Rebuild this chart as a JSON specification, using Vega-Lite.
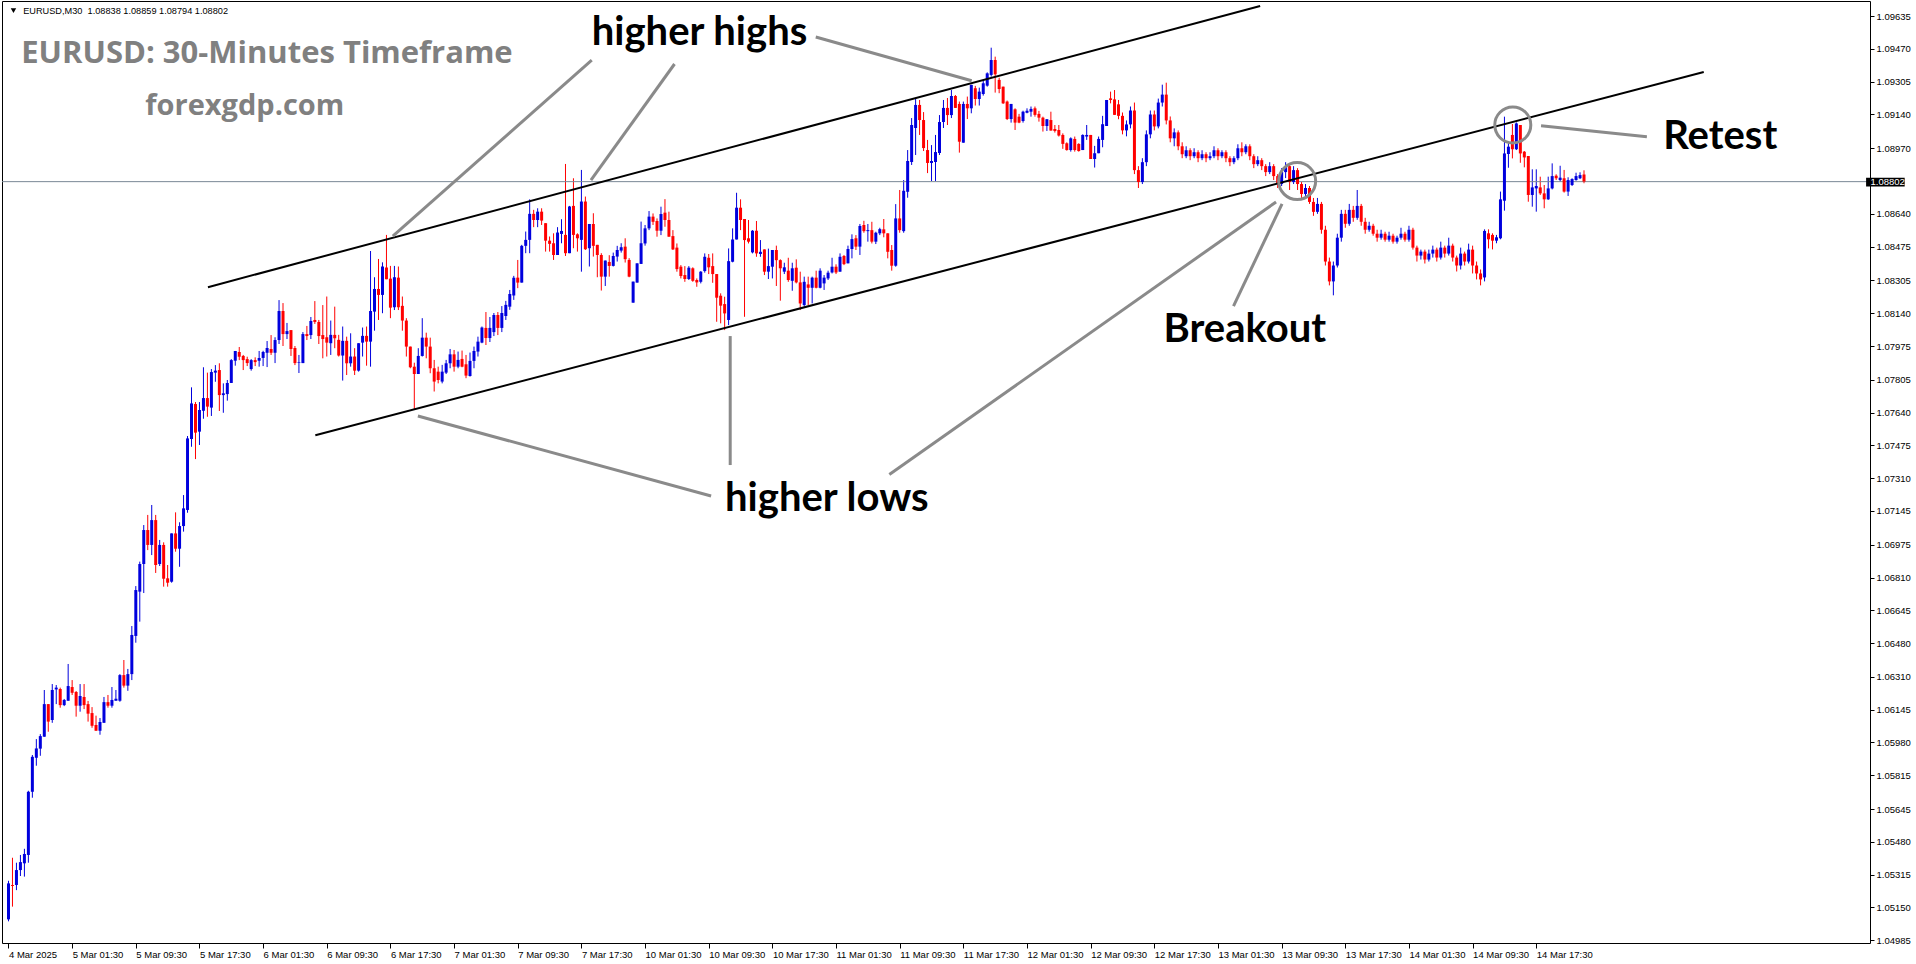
{
"$schema":"https://vega.github.io/schema/vega-lite/v6.json",
"width":1868,"height":942,"autosize":"none",
"padding":{"left":2,"top":1,"right":46,"bottom":21},
"background":"white",
"config":{"view":{"stroke":"black","strokeWidth":1},"axis":{"labelFont":"Liberation Sans","labelFontSize":9.5,"labelColor":"black","tickColor":"black","grid":false,"domain":false,"labelOverlap":false}},
"datasets":{
"bars":[
{"i":0,"o":1.05090,"h":1.05284,"l":1.05080,"c":1.05271},
{"i":1,"o":1.05263,"h":1.05400,"l":1.05154,"c":1.05258},
{"i":2,"o":1.05263,"h":1.05375,"l":1.05237,"c":1.05338},
{"i":3,"o":1.05338,"h":1.05414,"l":1.05308,"c":1.05378},
{"i":4,"o":1.05372,"h":1.05445,"l":1.05305,"c":1.05419},
{"i":5,"o":1.05414,"h":1.05737,"l":1.05375,"c":1.05732},
{"i":6,"o":1.05732,"h":1.05917,"l":1.05702,"c":1.05908},
{"i":7,"o":1.05903,"h":1.05997,"l":1.05863,"c":1.05950},
{"i":8,"o":1.05949,"h":1.06022,"l":1.05913,"c":1.06012},
{"i":9,"o":1.06009,"h":1.06244,"l":1.06009,"c":1.06173},
{"i":10,"o":1.06173,"h":1.06173,"l":1.06034,"c":1.06085},
{"i":11,"o":1.06093,"h":1.06274,"l":1.06079,"c":1.06244},
{"i":12,"o":1.06247,"h":1.06269,"l":1.06173,"c":1.06256},
{"i":13,"o":1.06249,"h":1.06256,"l":1.06155,"c":1.06168},
{"i":14,"o":1.06168,"h":1.06199,"l":1.06163,"c":1.06194},
{"i":15,"o":1.06190,"h":1.06375,"l":1.06190,"c":1.06264},
{"i":16,"o":1.06259,"h":1.06294,"l":1.06219,"c":1.06230},
{"i":17,"o":1.06234,"h":1.06239,"l":1.06110,"c":1.06165},
{"i":18,"o":1.06165,"h":1.06274,"l":1.06135,"c":1.06214},
{"i":19,"o":1.06209,"h":1.06274,"l":1.06148,"c":1.06168},
{"i":20,"o":1.06173,"h":1.06189,"l":1.06085,"c":1.06125},
{"i":21,"o":1.06128,"h":1.06158,"l":1.06054,"c":1.06064},
{"i":22,"o":1.06068,"h":1.06115,"l":1.06039,"c":1.06039},
{"i":23,"o":1.06039,"h":1.06103,"l":1.06019,"c":1.06083},
{"i":24,"o":1.06079,"h":1.06209,"l":1.06079,"c":1.06183},
{"i":25,"o":1.06183,"h":1.06219,"l":1.06155,"c":1.06165},
{"i":26,"o":1.06165,"h":1.06259,"l":1.06155,"c":1.06194},
{"i":27,"o":1.06190,"h":1.06244,"l":1.06190,"c":1.06200},
{"i":28,"o":1.06190,"h":1.06324,"l":1.06185,"c":1.06319},
{"i":29,"o":1.06319,"h":1.06395,"l":1.06256,"c":1.06266},
{"i":30,"o":1.06266,"h":1.06350,"l":1.06240,"c":1.06324},
{"i":31,"o":1.06324,"h":1.06566,"l":1.06294,"c":1.06521},
{"i":32,"o":1.06516,"h":1.06767,"l":1.06482,"c":1.06747},
{"i":33,"o":1.06739,"h":1.06890,"l":1.06588,"c":1.06878},
{"i":34,"o":1.06878,"h":1.07074,"l":1.06732,"c":1.07049},
{"i":35,"o":1.07049,"h":1.07125,"l":1.06948,"c":1.06974},
{"i":36,"o":1.06974,"h":1.07175,"l":1.06923,"c":1.07099},
{"i":37,"o":1.07099,"h":1.07125,"l":1.06833,"c":1.06873},
{"i":38,"o":1.06878,"h":1.06999,"l":1.06868,"c":1.06974},
{"i":39,"o":1.06974,"h":1.06987,"l":1.06764,"c":1.06804},
{"i":40,"o":1.06806,"h":1.06873,"l":1.06764,"c":1.06784},
{"i":41,"o":1.06789,"h":1.07032,"l":1.06784,"c":1.07032},
{"i":42,"o":1.07032,"h":1.07138,"l":1.06940,"c":1.06955},
{"i":43,"o":1.06955,"h":1.07088,"l":1.06864,"c":1.07069},
{"i":44,"o":1.07069,"h":1.07225,"l":1.07041,"c":1.07158},
{"i":45,"o":1.07150,"h":1.07522,"l":1.07136,"c":1.07510},
{"i":46,"o":1.07507,"h":1.07767,"l":1.07468,"c":1.07686},
{"i":47,"o":1.07683,"h":1.07693,"l":1.07406,"c":1.07539},
{"i":48,"o":1.07544,"h":1.07693,"l":1.07477,"c":1.07653},
{"i":49,"o":1.07649,"h":1.07868,"l":1.07609,"c":1.07713},
{"i":50,"o":1.07713,"h":1.07841,"l":1.07619,"c":1.07670},
{"i":51,"o":1.07665,"h":1.07859,"l":1.07623,"c":1.07844},
{"i":52,"o":1.07841,"h":1.07879,"l":1.07795,"c":1.07851},
{"i":53,"o":1.07854,"h":1.07888,"l":1.07648,"c":1.07728},
{"i":54,"o":1.07728,"h":1.07787,"l":1.07639,"c":1.07737},
{"i":55,"o":1.07733,"h":1.07804,"l":1.07700,"c":1.07789},
{"i":56,"o":1.07789,"h":1.07909,"l":1.07789,"c":1.07904},
{"i":57,"o":1.07901,"h":1.07950,"l":1.07876,"c":1.07950},
{"i":58,"o":1.07945,"h":1.07970,"l":1.07904,"c":1.07921},
{"i":59,"o":1.07925,"h":1.07930,"l":1.07854,"c":1.07904},
{"i":60,"o":1.07909,"h":1.07921,"l":1.07874,"c":1.07889},
{"i":61,"o":1.07859,"h":1.07909,"l":1.07851,"c":1.07904},
{"i":62,"o":1.07904,"h":1.07918,"l":1.07874,"c":1.07894},
{"i":63,"o":1.07901,"h":1.07950,"l":1.07871,"c":1.07915},
{"i":64,"o":1.07915,"h":1.07951,"l":1.07874,"c":1.07945},
{"i":65,"o":1.07941,"h":1.08000,"l":1.07869,"c":1.07965},
{"i":66,"o":1.07960,"h":1.08030,"l":1.07930,"c":1.07941},
{"i":67,"o":1.07941,"h":1.08019,"l":1.07889,"c":1.08005},
{"i":68,"o":1.08005,"h":1.08206,"l":1.07985,"c":1.08151},
{"i":69,"o":1.08151,"h":1.08191,"l":1.07975,"c":1.08035},
{"i":70,"o":1.08035,"h":1.08091,"l":1.08010,"c":1.08050},
{"i":71,"o":1.08055,"h":1.08055,"l":1.07925,"c":1.07960},
{"i":72,"o":1.07965,"h":1.07975,"l":1.07879,"c":1.07889},
{"i":73,"o":1.07891,"h":1.07930,"l":1.07839,"c":1.07894},
{"i":74,"o":1.07889,"h":1.08045,"l":1.07889,"c":1.08035},
{"i":75,"o":1.08035,"h":1.08076,"l":1.08005,"c":1.08025},
{"i":76,"o":1.08030,"h":1.08121,"l":1.08010,"c":1.08101},
{"i":77,"o":1.08106,"h":1.08201,"l":1.08086,"c":1.08096},
{"i":78,"o":1.08096,"h":1.08106,"l":1.07985,"c":1.08025},
{"i":79,"o":1.08030,"h":1.08181,"l":1.07913,"c":1.08010},
{"i":80,"o":1.08019,"h":1.08224,"l":1.07922,"c":1.07992},
{"i":81,"o":1.07989,"h":1.08103,"l":1.07930,"c":1.08031},
{"i":82,"o":1.08031,"h":1.08173,"l":1.07964,"c":1.08014},
{"i":83,"o":1.08006,"h":1.08031,"l":1.07922,"c":1.07927},
{"i":84,"o":1.07927,"h":1.08073,"l":1.07801,"c":1.08001},
{"i":85,"o":1.08001,"h":1.08022,"l":1.07829,"c":1.07888},
{"i":86,"o":1.07888,"h":1.08039,"l":1.07871,"c":1.07922},
{"i":87,"o":1.07922,"h":1.07964,"l":1.07829,"c":1.07851},
{"i":88,"o":1.07851,"h":1.07989,"l":1.07846,"c":1.07989},
{"i":89,"o":1.07992,"h":1.08068,"l":1.07922,"c":1.08026},
{"i":90,"o":1.08026,"h":1.08073,"l":1.07876,"c":1.07997},
{"i":91,"o":1.07997,"h":1.08453,"l":1.07871,"c":1.08151},
{"i":92,"o":1.08148,"h":1.08321,"l":1.08052,"c":1.08262},
{"i":93,"o":1.08262,"h":1.08413,"l":1.08106,"c":1.08232},
{"i":94,"o":1.08232,"h":1.08396,"l":1.08140,"c":1.08375},
{"i":95,"o":1.08370,"h":1.08534,"l":1.08311,"c":1.08311},
{"i":96,"o":1.08314,"h":1.08378,"l":1.08115,"c":1.08168},
{"i":97,"o":1.08170,"h":1.08378,"l":1.08156,"c":1.08321},
{"i":98,"o":1.08319,"h":1.08375,"l":1.08156,"c":1.08170},
{"i":99,"o":1.08177,"h":1.08224,"l":1.08052,"c":1.08103},
{"i":100,"o":1.08103,"h":1.08115,"l":1.07922,"c":1.07972},
{"i":101,"o":1.07972,"h":1.07972,"l":1.07863,"c":1.07868},
{"i":102,"o":1.07871,"h":1.07891,"l":1.07657,"c":1.07834},
{"i":103,"o":1.07834,"h":1.07964,"l":1.07834,"c":1.07925},
{"i":104,"o":1.07925,"h":1.08115,"l":1.07922,"c":1.08017},
{"i":105,"o":1.08017,"h":1.08042,"l":1.07913,"c":1.07972},
{"i":106,"o":1.07972,"h":1.08017,"l":1.07838,"c":1.07863},
{"i":107,"o":1.07863,"h":1.07905,"l":1.07746,"c":1.07796},
{"i":108,"o":1.07846,"h":1.07871,"l":1.07787,"c":1.07804},
{"i":109,"o":1.07796,"h":1.07880,"l":1.07787,"c":1.07846},
{"i":110,"o":1.07841,"h":1.07905,"l":1.07834,"c":1.07888},
{"i":111,"o":1.07888,"h":1.07960,"l":1.07863,"c":1.07933},
{"i":112,"o":1.07933,"h":1.07955,"l":1.07846,"c":1.07871},
{"i":113,"o":1.07871,"h":1.07947,"l":1.07863,"c":1.07905},
{"i":114,"o":1.07910,"h":1.07952,"l":1.07868,"c":1.07871},
{"i":115,"o":1.07883,"h":1.07930,"l":1.07813,"c":1.07826},
{"i":116,"o":1.07824,"h":1.07942,"l":1.07821,"c":1.07900},
{"i":117,"o":1.07900,"h":1.07972,"l":1.07863,"c":1.07950},
{"i":118,"o":1.07947,"h":1.08022,"l":1.07922,"c":1.07997},
{"i":119,"o":1.07992,"h":1.08073,"l":1.07989,"c":1.08068},
{"i":120,"o":1.08066,"h":1.08146,"l":1.07980,"c":1.08015},
{"i":121,"o":1.08015,"h":1.08121,"l":1.07995,"c":1.08066},
{"i":122,"o":1.08045,"h":1.08141,"l":1.08025,"c":1.08131},
{"i":123,"o":1.08131,"h":1.08146,"l":1.08030,"c":1.08066},
{"i":124,"o":1.08066,"h":1.08176,"l":1.08045,"c":1.08141},
{"i":125,"o":1.08126,"h":1.08202,"l":1.08106,"c":1.08182},
{"i":126,"o":1.08173,"h":1.08257,"l":1.08157,"c":1.08237},
{"i":127,"o":1.08229,"h":1.08328,"l":1.08207,"c":1.08319},
{"i":128,"o":1.08319,"h":1.08408,"l":1.08266,"c":1.08294},
{"i":129,"o":1.08294,"h":1.08484,"l":1.08294,"c":1.08479},
{"i":130,"o":1.08479,"h":1.08551,"l":1.08442,"c":1.08509},
{"i":131,"o":1.08509,"h":1.08713,"l":1.08442,"c":1.08640},
{"i":132,"o":1.08640,"h":1.08660,"l":1.08573,"c":1.08609},
{"i":133,"o":1.08609,"h":1.08668,"l":1.08573,"c":1.08651},
{"i":134,"o":1.08651,"h":1.08668,"l":1.08584,"c":1.08606},
{"i":135,"o":1.08593,"h":1.08593,"l":1.08450,"c":1.08505},
{"i":136,"o":1.08505,"h":1.08526,"l":1.08450,"c":1.08489},
{"i":137,"o":1.08492,"h":1.08542,"l":1.08408,"c":1.08433},
{"i":138,"o":1.08433,"h":1.08573,"l":1.08433,"c":1.08546},
{"i":139,"o":1.08539,"h":1.08613,"l":1.08492,"c":1.08554},
{"i":140,"o":1.08534,"h":1.08891,"l":1.08428,"c":1.08442},
{"i":141,"o":1.08442,"h":1.08680,"l":1.08442,"c":1.08677},
{"i":142,"o":1.08680,"h":1.08819,"l":1.08467,"c":1.08534},
{"i":143,"o":1.08537,"h":1.08542,"l":1.08450,"c":1.08517},
{"i":144,"o":1.08509,"h":1.08861,"l":1.08349,"c":1.08702},
{"i":145,"o":1.08702,"h":1.08727,"l":1.08458,"c":1.08462},
{"i":146,"o":1.08467,"h":1.08589,"l":1.08375,"c":1.08589},
{"i":147,"o":1.08589,"h":1.08643,"l":1.08425,"c":1.08479},
{"i":148,"o":1.08484,"h":1.08484,"l":1.08321,"c":1.08433},
{"i":149,"o":1.08433,"h":1.08442,"l":1.08254,"c":1.08324},
{"i":150,"o":1.08324,"h":1.08405,"l":1.08277,"c":1.08405},
{"i":151,"o":1.08398,"h":1.08432,"l":1.08324,"c":1.08378},
{"i":152,"o":1.08378,"h":1.08445,"l":1.08375,"c":1.08428},
{"i":153,"o":1.08425,"h":1.08479,"l":1.08400,"c":1.08458},
{"i":154,"o":1.08455,"h":1.08492,"l":1.08445,"c":1.08472},
{"i":155,"o":1.08475,"h":1.08517,"l":1.08395,"c":1.08412},
{"i":156,"o":1.08408,"h":1.08417,"l":1.08321,"c":1.08324},
{"i":157,"o":1.08193,"h":1.08299,"l":1.08193,"c":1.08299},
{"i":158,"o":1.08294,"h":1.08391,"l":1.08294,"c":1.08391},
{"i":159,"o":1.08388,"h":1.08601,"l":1.08388,"c":1.08492},
{"i":160,"o":1.08491,"h":1.08584,"l":1.08480,"c":1.08567},
{"i":161,"o":1.08567,"h":1.08654,"l":1.08558,"c":1.08626},
{"i":162,"o":1.08626,"h":1.08642,"l":1.08584,"c":1.08600},
{"i":163,"o":1.08604,"h":1.08617,"l":1.08525,"c":1.08555},
{"i":164,"o":1.08555,"h":1.08676,"l":1.08533,"c":1.08639},
{"i":165,"o":1.08646,"h":1.08714,"l":1.08575,"c":1.08609},
{"i":166,"o":1.08609,"h":1.08651,"l":1.08525,"c":1.08525},
{"i":167,"o":1.08528,"h":1.08558,"l":1.08458,"c":1.08461},
{"i":168,"o":1.08470,"h":1.08491,"l":1.08349,"c":1.08362},
{"i":169,"o":1.08374,"h":1.08382,"l":1.08315,"c":1.08327},
{"i":170,"o":1.08332,"h":1.08377,"l":1.08298,"c":1.08312},
{"i":171,"o":1.08312,"h":1.08377,"l":1.08307,"c":1.08369},
{"i":172,"o":1.08366,"h":1.08371,"l":1.08298,"c":1.08303},
{"i":173,"o":1.08307,"h":1.08315,"l":1.08273,"c":1.08295},
{"i":174,"o":1.08298,"h":1.08352,"l":1.08290,"c":1.08349},
{"i":175,"o":1.08352,"h":1.08441,"l":1.08344,"c":1.08424},
{"i":176,"o":1.08419,"h":1.08438,"l":1.08337,"c":1.08371},
{"i":177,"o":1.08377,"h":1.08441,"l":1.08293,"c":1.08337},
{"i":178,"o":1.08337,"h":1.08337,"l":1.08097,"c":1.08218},
{"i":179,"o":1.08228,"h":1.08240,"l":1.08089,"c":1.08178},
{"i":180,"o":1.08186,"h":1.08223,"l":1.08055,"c":1.08139},
{"i":181,"o":1.08106,"h":1.08466,"l":1.08080,"c":1.08402},
{"i":182,"o":1.08399,"h":1.08567,"l":1.08396,"c":1.08511},
{"i":183,"o":1.08511,"h":1.08746,"l":1.08511,"c":1.08671},
{"i":184,"o":1.08671,"h":1.08713,"l":1.08558,"c":1.08609},
{"i":185,"o":1.08614,"h":1.08614,"l":1.08122,"c":1.08508},
{"i":186,"o":1.08517,"h":1.08609,"l":1.08491,"c":1.08500},
{"i":187,"o":1.08446,"h":1.08558,"l":1.08441,"c":1.08555},
{"i":188,"o":1.08555,"h":1.08604,"l":1.08424,"c":1.08441},
{"i":189,"o":1.08438,"h":1.08508,"l":1.08424,"c":1.08449},
{"i":190,"o":1.08461,"h":1.08461,"l":1.08332,"c":1.08349},
{"i":191,"o":1.08349,"h":1.08465,"l":1.08312,"c":1.08377},
{"i":192,"o":1.08374,"h":1.08458,"l":1.08315,"c":1.08458},
{"i":193,"o":1.08458,"h":1.08480,"l":1.08277,"c":1.08407},
{"i":194,"o":1.08407,"h":1.08411,"l":1.08203,"c":1.08366},
{"i":195,"o":1.08349,"h":1.08394,"l":1.08337,"c":1.08371},
{"i":196,"o":1.08354,"h":1.08419,"l":1.08298,"c":1.08307},
{"i":197,"o":1.08303,"h":1.08394,"l":1.08253,"c":1.08366},
{"i":198,"o":1.08369,"h":1.08411,"l":1.08290,"c":1.08295},
{"i":199,"o":1.08295,"h":1.08349,"l":1.08156,"c":1.08189},
{"i":200,"o":1.08181,"h":1.08324,"l":1.08173,"c":1.08298},
{"i":201,"o":1.08285,"h":1.08324,"l":1.08181,"c":1.08268},
{"i":202,"o":1.08268,"h":1.08324,"l":1.08189,"c":1.08319},
{"i":203,"o":1.08319,"h":1.08354,"l":1.08265,"c":1.08268},
{"i":204,"o":1.08268,"h":1.08366,"l":1.08265,"c":1.08354},
{"i":205,"o":1.08290,"h":1.08332,"l":1.08257,"c":1.08319},
{"i":206,"o":1.08315,"h":1.08354,"l":1.08307,"c":1.08344},
{"i":207,"o":1.08345,"h":1.08419,"l":1.08340,"c":1.08374},
{"i":208,"o":1.08374,"h":1.08386,"l":1.08337,"c":1.08345},
{"i":209,"o":1.08349,"h":1.08441,"l":1.08349,"c":1.08424},
{"i":210,"o":1.08428,"h":1.08433,"l":1.08382,"c":1.08387},
{"i":211,"o":1.08391,"h":1.08480,"l":1.08391,"c":1.08463},
{"i":212,"o":1.08463,"h":1.08537,"l":1.08416,"c":1.08513},
{"i":213,"o":1.08517,"h":1.08533,"l":1.08458,"c":1.08475},
{"i":214,"o":1.08475,"h":1.08589,"l":1.08433,"c":1.08579},
{"i":215,"o":1.08584,"h":1.08605,"l":1.08545,"c":1.08553},
{"i":216,"o":1.08553,"h":1.08589,"l":1.08500,"c":1.08558},
{"i":217,"o":1.08558,"h":1.08600,"l":1.08491,"c":1.08500},
{"i":218,"o":1.08500,"h":1.08550,"l":1.08488,"c":1.08545},
{"i":219,"o":1.08542,"h":1.08570,"l":1.08533,"c":1.08563},
{"i":220,"o":1.08562,"h":1.08614,"l":1.08522,"c":1.08542},
{"i":221,"o":1.08542,"h":1.08542,"l":1.08416,"c":1.08449},
{"i":222,"o":1.08458,"h":1.08483,"l":1.08354,"c":1.08379},
{"i":223,"o":1.08379,"h":1.08689,"l":1.08374,"c":1.08617},
{"i":224,"o":1.08617,"h":1.08760,"l":1.08545,"c":1.08558},
{"i":225,"o":1.08553,"h":1.08810,"l":1.08545,"c":1.08756},
{"i":226,"o":1.08751,"h":1.08961,"l":1.08721,"c":1.08906},
{"i":227,"o":1.08901,"h":1.09122,"l":1.08886,"c":1.09087},
{"i":228,"o":1.09072,"h":1.09223,"l":1.08936,"c":1.09188},
{"i":229,"o":1.09188,"h":1.09213,"l":1.09037,"c":1.09112},
{"i":230,"o":1.09112,"h":1.09152,"l":1.08956,"c":1.08971},
{"i":231,"o":1.08961,"h":1.09012,"l":1.08845,"c":1.08896},
{"i":232,"o":1.08896,"h":1.08986,"l":1.08805,"c":1.08906},
{"i":233,"o":1.08901,"h":1.09037,"l":1.08805,"c":1.08951},
{"i":234,"o":1.08946,"h":1.09137,"l":1.08936,"c":1.09102},
{"i":235,"o":1.09102,"h":1.09213,"l":1.09072,"c":1.09173},
{"i":236,"o":1.09173,"h":1.09223,"l":1.09087,"c":1.09137},
{"i":237,"o":1.09137,"h":1.09263,"l":1.09122,"c":1.09233},
{"i":238,"o":1.09233,"h":1.09238,"l":1.09173,"c":1.09173},
{"i":239,"o":1.09193,"h":1.09205,"l":1.08948,"c":1.09003},
{"i":240,"o":1.08998,"h":1.09205,"l":1.08998,"c":1.09193},
{"i":241,"o":1.09193,"h":1.09230,"l":1.09117,"c":1.09171},
{"i":242,"o":1.09171,"h":1.09289,"l":1.09146,"c":1.09289},
{"i":243,"o":1.09272,"h":1.09284,"l":1.09185,"c":1.09218},
{"i":244,"o":1.09218,"h":1.09275,"l":1.09185,"c":1.09255},
{"i":245,"o":1.09243,"h":1.09314,"l":1.09235,"c":1.09297},
{"i":246,"o":1.09285,"h":1.09352,"l":1.09280,"c":1.09347},
{"i":247,"o":1.09339,"h":1.09476,"l":1.09330,"c":1.09414},
{"i":248,"o":1.09414,"h":1.09431,"l":1.09250,"c":1.09342},
{"i":249,"o":1.09314,"h":1.09325,"l":1.09247,"c":1.09268},
{"i":250,"o":1.09280,"h":1.09280,"l":1.09193,"c":1.09196},
{"i":251,"o":1.09205,"h":1.09210,"l":1.09112,"c":1.09117},
{"i":252,"o":1.09117,"h":1.09193,"l":1.09099,"c":1.09193},
{"i":253,"o":1.09166,"h":1.09171,"l":1.09062,"c":1.09099},
{"i":254,"o":1.09129,"h":1.09143,"l":1.09096,"c":1.09099},
{"i":255,"o":1.09107,"h":1.09159,"l":1.09099,"c":1.09154},
{"i":256,"o":1.09149,"h":1.09171,"l":1.09146,"c":1.09159},
{"i":257,"o":1.09154,"h":1.09180,"l":1.09129,"c":1.09168},
{"i":258,"o":1.09171,"h":1.09180,"l":1.09129,"c":1.09138},
{"i":259,"o":1.09143,"h":1.09158,"l":1.09104,"c":1.09124},
{"i":260,"o":1.09124,"h":1.09129,"l":1.09054,"c":1.09082},
{"i":261,"o":1.09082,"h":1.09117,"l":1.09057,"c":1.09116},
{"i":262,"o":1.09112,"h":1.09154,"l":1.09059,"c":1.09059},
{"i":263,"o":1.09067,"h":1.09087,"l":1.09049,"c":1.09057},
{"i":264,"o":1.09062,"h":1.09087,"l":1.09029,"c":1.09034},
{"i":265,"o":1.09037,"h":1.09045,"l":1.08967,"c":1.08992},
{"i":266,"o":1.08995,"h":1.09000,"l":1.08958,"c":1.08961},
{"i":267,"o":1.08961,"h":1.09025,"l":1.08953,"c":1.09020},
{"i":268,"o":1.09017,"h":1.09029,"l":1.08953,"c":1.08961},
{"i":269,"o":1.08992,"h":1.08995,"l":1.08953,"c":1.08956},
{"i":270,"o":1.08961,"h":1.09040,"l":1.08961,"c":1.09037},
{"i":271,"o":1.09029,"h":1.09087,"l":1.09012,"c":1.09037},
{"i":272,"o":1.09037,"h":1.09037,"l":1.08916,"c":1.08916},
{"i":273,"o":1.08916,"h":1.08982,"l":1.08873,"c":1.08945},
{"i":274,"o":1.08945,"h":1.09029,"l":1.08945,"c":1.09017},
{"i":275,"o":1.09012,"h":1.09133,"l":1.08975,"c":1.09091},
{"i":276,"o":1.09082,"h":1.09213,"l":1.09082,"c":1.09213},
{"i":277,"o":1.09221,"h":1.09255,"l":1.09196,"c":1.09213},
{"i":278,"o":1.09216,"h":1.09263,"l":1.09138,"c":1.09138},
{"i":279,"o":1.09191,"h":1.09213,"l":1.09116,"c":1.09133},
{"i":280,"o":1.09133,"h":1.09150,"l":1.09040,"c":1.09060},
{"i":281,"o":1.09060,"h":1.09110,"l":1.09030,"c":1.09090},
{"i":282,"o":1.09090,"h":1.09180,"l":1.09070,"c":1.09160},
{"i":283,"o":1.09160,"h":1.09200,"l":1.08840,"c":1.08860},
{"i":284,"o":1.08860,"h":1.08880,"l":1.08770,"c":1.08800},
{"i":285,"o":1.08800,"h":1.08920,"l":1.08790,"c":1.08900},
{"i":286,"o":1.08900,"h":1.09060,"l":1.08880,"c":1.09040},
{"i":287,"o":1.09040,"h":1.09160,"l":1.09020,"c":1.09140},
{"i":288,"o":1.09140,"h":1.09160,"l":1.09060,"c":1.09080},
{"i":289,"o":1.09080,"h":1.09220,"l":1.09070,"c":1.09200},
{"i":290,"o":1.09200,"h":1.09290,"l":1.09180,"c":1.09240},
{"i":291,"o":1.09240,"h":1.09300,"l":1.09090,"c":1.09110},
{"i":292,"o":1.09110,"h":1.09130,"l":1.09000,"c":1.09020},
{"i":293,"o":1.09020,"h":1.09070,"l":1.08980,"c":1.09050},
{"i":294,"o":1.09050,"h":1.09060,"l":1.08960,"c":1.08980},
{"i":295,"o":1.08980,"h":1.09000,"l":1.08920,"c":1.08940},
{"i":296,"o":1.08930,"h":1.08980,"l":1.08920,"c":1.08960},
{"i":297,"o":1.08960,"h":1.08970,"l":1.08910,"c":1.08930},
{"i":298,"o":1.08930,"h":1.08970,"l":1.08920,"c":1.08950},
{"i":299,"o":1.08950,"h":1.08960,"l":1.08900,"c":1.08920},
{"i":300,"o":1.08920,"h":1.08960,"l":1.08910,"c":1.08940},
{"i":301,"o":1.08940,"h":1.08950,"l":1.08900,"c":1.08920},
{"i":302,"o":1.08920,"h":1.08950,"l":1.08910,"c":1.08930},
{"i":303,"o":1.08930,"h":1.08980,"l":1.08920,"c":1.08960},
{"i":304,"o":1.08960,"h":1.08970,"l":1.08910,"c":1.08930},
{"i":305,"o":1.08930,"h":1.08960,"l":1.08920,"c":1.08950},
{"i":306,"o":1.08950,"h":1.08960,"l":1.08900,"c":1.08920},
{"i":307,"o":1.08920,"h":1.08930,"l":1.08880,"c":1.08900},
{"i":308,"o":1.08900,"h":1.08930,"l":1.08890,"c":1.08920},
{"i":309,"o":1.08920,"h":1.08990,"l":1.08910,"c":1.08970},
{"i":310,"o":1.08970,"h":1.09000,"l":1.08930,"c":1.08950},
{"i":311,"o":1.08950,"h":1.08990,"l":1.08940,"c":1.08980},
{"i":312,"o":1.08980,"h":1.08990,"l":1.08910,"c":1.08930},
{"i":313,"o":1.08930,"h":1.08940,"l":1.08870,"c":1.08890},
{"i":314,"o":1.08890,"h":1.08930,"l":1.08880,"c":1.08910},
{"i":315,"o":1.08910,"h":1.08920,"l":1.08860,"c":1.08880},
{"i":316,"o":1.08880,"h":1.08890,"l":1.08830,"c":1.08850},
{"i":317,"o":1.08850,"h":1.08900,"l":1.08840,"c":1.08880},
{"i":318,"o":1.08880,"h":1.08890,"l":1.08810,"c":1.08830},
{"i":319,"o":1.08830,"h":1.08840,"l":1.08770,"c":1.08790},
{"i":320,"o":1.08790,"h":1.08870,"l":1.08780,"c":1.08850},
{"i":321,"o":1.08850,"h":1.08900,"l":1.08820,"c":1.08880},
{"i":322,"o":1.08880,"h":1.08890,"l":1.08760,"c":1.08800},
{"i":323,"o":1.08800,"h":1.08880,"l":1.08790,"c":1.08860},
{"i":324,"o":1.08860,"h":1.08870,"l":1.08760,"c":1.08790},
{"i":325,"o":1.08790,"h":1.08800,"l":1.08720,"c":1.08740},
{"i":326,"o":1.08740,"h":1.08790,"l":1.08730,"c":1.08770},
{"i":327,"o":1.08770,"h":1.08780,"l":1.08690,"c":1.08700},
{"i":328,"o":1.08700,"h":1.08720,"l":1.08630,"c":1.08650},
{"i":329,"o":1.08650,"h":1.08720,"l":1.08640,"c":1.08690},
{"i":330,"o":1.08690,"h":1.08700,"l":1.08540,"c":1.08560},
{"i":331,"o":1.08560,"h":1.08580,"l":1.08380,"c":1.08400},
{"i":332,"o":1.08400,"h":1.08420,"l":1.08280,"c":1.08300},
{"i":333,"o":1.08300,"h":1.08400,"l":1.08230,"c":1.08380},
{"i":334,"o":1.08380,"h":1.08540,"l":1.08370,"c":1.08520},
{"i":335,"o":1.08520,"h":1.08660,"l":1.08500,"c":1.08640},
{"i":336,"o":1.08640,"h":1.08660,"l":1.08570,"c":1.08590},
{"i":337,"o":1.08590,"h":1.08690,"l":1.08580,"c":1.08660},
{"i":338,"o":1.08660,"h":1.08680,"l":1.08600,"c":1.08620},
{"i":339,"o":1.08620,"h":1.08760,"l":1.08610,"c":1.08680},
{"i":340,"o":1.08680,"h":1.08690,"l":1.08580,"c":1.08600},
{"i":341,"o":1.08600,"h":1.08620,"l":1.08540,"c":1.08560},
{"i":342,"o":1.08560,"h":1.08600,"l":1.08550,"c":1.08580},
{"i":343,"o":1.08580,"h":1.08590,"l":1.08530,"c":1.08540},
{"i":344,"o":1.08540,"h":1.08560,"l":1.08500,"c":1.08520},
{"i":345,"o":1.08520,"h":1.08560,"l":1.08510,"c":1.08540},
{"i":346,"o":1.08540,"h":1.08550,"l":1.08500,"c":1.08510},
{"i":347,"o":1.08510,"h":1.08550,"l":1.08500,"c":1.08530},
{"i":348,"o":1.08530,"h":1.08540,"l":1.08490,"c":1.08500},
{"i":349,"o":1.08500,"h":1.08530,"l":1.08490,"c":1.08520},
{"i":350,"o":1.08520,"h":1.08570,"l":1.08510,"c":1.08540},
{"i":351,"o":1.08540,"h":1.08550,"l":1.08500,"c":1.08510},
{"i":352,"o":1.08510,"h":1.08580,"l":1.08500,"c":1.08560},
{"i":353,"o":1.08560,"h":1.08570,"l":1.08460,"c":1.08470},
{"i":354,"o":1.08470,"h":1.08480,"l":1.08400,"c":1.08430},
{"i":355,"o":1.08430,"h":1.08460,"l":1.08410,"c":1.08450},
{"i":356,"o":1.08450,"h":1.08460,"l":1.08390,"c":1.08410},
{"i":357,"o":1.08410,"h":1.08460,"l":1.08400,"c":1.08440},
{"i":358,"o":1.08440,"h":1.08480,"l":1.08420,"c":1.08460},
{"i":359,"o":1.08460,"h":1.08470,"l":1.08400,"c":1.08420},
{"i":360,"o":1.08420,"h":1.08500,"l":1.08410,"c":1.08470},
{"i":361,"o":1.08470,"h":1.08480,"l":1.08420,"c":1.08440},
{"i":362,"o":1.08440,"h":1.08520,"l":1.08430,"c":1.08480},
{"i":363,"o":1.08480,"h":1.08490,"l":1.08400,"c":1.08420},
{"i":364,"o":1.08420,"h":1.08430,"l":1.08350,"c":1.08380},
{"i":365,"o":1.08380,"h":1.08470,"l":1.08360,"c":1.08440},
{"i":366,"o":1.08440,"h":1.08450,"l":1.08380,"c":1.08400},
{"i":367,"o":1.08400,"h":1.08490,"l":1.08390,"c":1.08460},
{"i":368,"o":1.08460,"h":1.08480,"l":1.08340,"c":1.08380},
{"i":369,"o":1.08380,"h":1.08400,"l":1.08310,"c":1.08340},
{"i":370,"o":1.08340,"h":1.08360,"l":1.08280,"c":1.08310},
{"i":371,"o":1.08320,"h":1.08562,"l":1.08300,"c":1.08554},
{"i":372,"o":1.08542,"h":1.08562,"l":1.08466,"c":1.08512},
{"i":373,"o":1.08534,"h":1.08542,"l":1.08461,"c":1.08505},
{"i":374,"o":1.08505,"h":1.08534,"l":1.08492,"c":1.08522},
{"i":375,"o":1.08517,"h":1.08752,"l":1.08512,"c":1.08713},
{"i":376,"o":1.08706,"h":1.09129,"l":1.08656,"c":1.08944},
{"i":377,"o":1.08941,"h":1.08995,"l":1.08872,"c":1.08978},
{"i":378,"o":1.09037,"h":1.09092,"l":1.08919,"c":1.08965},
{"i":379,"o":1.08965,"h":1.09100,"l":1.08961,"c":1.09095},
{"i":380,"o":1.09087,"h":1.09087,"l":1.08897,"c":1.08944},
{"i":381,"o":1.08953,"h":1.08956,"l":1.08874,"c":1.08924},
{"i":382,"o":1.08931,"h":1.08931,"l":1.08701,"c":1.08735},
{"i":383,"o":1.08735,"h":1.08864,"l":1.08676,"c":1.08773},
{"i":384,"o":1.08768,"h":1.08864,"l":1.08651,"c":1.08780},
{"i":385,"o":1.08773,"h":1.08827,"l":1.08735,"c":1.08743},
{"i":386,"o":1.08743,"h":1.08785,"l":1.08668,"c":1.08713},
{"i":387,"o":1.08713,"h":1.08827,"l":1.08710,"c":1.08768},
{"i":388,"o":1.08768,"h":1.08894,"l":1.08763,"c":1.08830},
{"i":389,"o":1.08832,"h":1.08839,"l":1.08810,"c":1.08819},
{"i":390,"o":1.08810,"h":1.08882,"l":1.08802,"c":1.08822},
{"i":391,"o":1.08819,"h":1.08861,"l":1.08747,"c":1.08752},
{"i":392,"o":1.08752,"h":1.08824,"l":1.08730,"c":1.08810},
{"i":393,"o":1.08785,"h":1.08819,"l":1.08780,"c":1.08815},
{"i":394,"o":1.08810,"h":1.08847,"l":1.08807,"c":1.08830},
{"i":395,"o":1.08819,"h":1.08849,"l":1.08815,"c":1.08835},
{"i":396,"o":1.08838,"h":1.08859,"l":1.08794,"c":1.08802}
],
"channel":[
{"i1":50.125,"p1":1.08271,"i2":314.6,"p2":1.09686},
{"i1":77.125,"p1":1.07526,"i2":426.1,"p2":1.09354}
],
"pointers":[
{"i1":146.6,"p1":1.09414,"i2":96.6,"p2":1.08528},
{"i1":167.4,"p1":1.09394,"i2":146.4,"p2":1.08810},
{"i1":202.9,"p1":1.09530,"i2":242.1,"p2":1.09310},
{"i1":176.6,"p1":1.07220,"i2":102.9,"p2":1.07623},
{"i1":181.4,"p1":1.07376,"i2":181.4,"p2":1.08025},
{"i1":221.4,"p1":1.07328,"i2":318.6,"p2":1.08700},
{"i1":307.9,"p1":1.08176,"i2":320.1,"p2":1.08690},
{"i1":385.2,"p1":1.09083,"i2":411.8,"p2":1.09028}
],
"circles":[
{"i":323.9,"p":1.08805,"d":37},
{"i":378.1,"p":1.09087,"d":36}
],
"notes":[
{"t":"higher highs","i":146.6,"p":1.09490},
{"t":"higher lows","i":180.1,"p":1.07145},
{"t":"Breakout","i":290.3,"p":1.07993},
{"t":"Retest","i":415.9,"p":1.08966}
]
},
"layer":[
{"data":{"name":"bars"},"mark":{"type":"rule","strokeWidth":1},
 "encoding":{
  "x":{"field":"i","type":"quantitative","title":null,"scale":{"domain":[-0.375,466.625],"nice":false,"zero":false},
   "axis":{"orient":"bottom","title":null,"values":[0,16,32,48,64,80,96,112,128,144,160,176,192,208,224,240,256,272,288,304,320,336,352,368,384],"tickCount":200,
    "labelExpr":"['4 Mar 2025','5 Mar 01:30','5 Mar 09:30','5 Mar 17:30','6 Mar 01:30','6 Mar 09:30','6 Mar 17:30','7 Mar 01:30','7 Mar 09:30','7 Mar 17:30','10 Mar 01:30','10 Mar 09:30','10 Mar 17:30','11 Mar 01:30','11 Mar 09:30','11 Mar 17:30','12 Mar 01:30','12 Mar 09:30','12 Mar 17:30','13 Mar 01:30','13 Mar 09:30','13 Mar 17:30','14 Mar 01:30','14 Mar 09:30','14 Mar 17:30'][round(datum.value/16)]",
    "labelAlign":"left","labelBaseline":"top","labelPadding":1,"tickSize":5,"labelFlush":false,"labelOverlap":false,"grid":false,"domain":false}},
  "y":{"field":"l","type":"quantitative","title":null,"scale":{"domain":[1.04971,1.09711],"nice":false,"zero":false},
   "axis":{"orient":"right","title":null,"values":[1.09635,1.0947,1.09305,1.0914,1.0897,1.0864,1.08475,1.08305,1.0814,1.07975,1.07805,1.0764,1.07475,1.0731,1.07145,1.06975,1.0681,1.06645,1.0648,1.0631,1.06145,1.0598,1.05815,1.05645,1.0548,1.05315,1.0515,1.04985],"tickCount":200,
    "format":".5f","tickSize":4,"labelPadding":2,"labelOverlap":false,"labelFlush":false,"labelBaseline":"middle","grid":false,"domain":false}},
  "y2":{"field":"h"},
  "color":{"condition":{"test":"datum.c >= datum.o","value":"#0000dd"},"value":"#ff0000"}}},
{"data":{"values":[{"p":1.08802}]},"mark":{"type":"rule","color":"#7a8896","strokeWidth":1},
 "encoding":{"y":{"field":"p","type":"quantitative","title":null,"scale":{"domain":[1.04971,1.09711],"nice":false,"zero":false}}}},
{"data":{"name":"bars"},"mark":{"type":"bar","width":3},
 "encoding":{
  "x":{"field":"i","type":"quantitative","title":null,"scale":{"domain":[-0.375,466.625],"nice":false,"zero":false}},
  "y":{"field":"o","type":"quantitative","title":null,"scale":{"domain":[1.04971,1.09711],"nice":false,"zero":false}},
  "y2":{"field":"c"},
  "color":{"condition":{"test":"datum.c >= datum.o","value":"#0000dd"},"value":"#ff0000"}}},
{"data":{"name":"channel"},"mark":{"type":"rule","color":"black","strokeWidth":2},
 "encoding":{
  "x":{"field":"i1","type":"quantitative","title":null,"scale":{"domain":[-0.375,466.625],"nice":false,"zero":false}},
  "x2":{"field":"i2"},
  "y":{"field":"p1","type":"quantitative","title":null,"scale":{"domain":[1.04971,1.09711],"nice":false,"zero":false}},
  "y2":{"field":"p2"}}},
{"data":{"name":"pointers"},"mark":{"type":"rule","color":"#8a8a8a","strokeWidth":3},
 "encoding":{
  "x":{"field":"i1","type":"quantitative","title":null,"scale":{"domain":[-0.375,466.625],"nice":false,"zero":false}},
  "x2":{"field":"i2"},
  "y":{"field":"p1","type":"quantitative","title":null,"scale":{"domain":[1.04971,1.09711],"nice":false,"zero":false}},
  "y2":{"field":"p2"}}},
{"data":{"name":"circles"},"mark":{"type":"point","shape":"circle","filled":false,"stroke":"#8a8a8a","strokeWidth":3,"opacity":1},
 "encoding":{
  "x":{"field":"i","type":"quantitative","title":null,"scale":{"domain":[-0.375,466.625],"nice":false,"zero":false}},
  "y":{"field":"p","type":"quantitative","title":null,"scale":{"domain":[1.04971,1.09711],"nice":false,"zero":false}},
  "size":{"field":"d","type":"quantitative","scale":{"type":"pow","exponent":2,"domain":[0,100],"range":[0,10000]},"legend":null}}},
{"data":{"name":"notes"},"mark":{"type":"text","font":"Lato","fontWeight":"bold","fontSize":40,"color":"black","align":"left","baseline":"alphabetic"},
 "encoding":{
  "x":{"field":"i","type":"quantitative","title":null,"scale":{"domain":[-0.375,466.625],"nice":false,"zero":false}},
  "y":{"field":"p","type":"quantitative","title":null,"scale":{"domain":[1.04971,1.09711],"nice":false,"zero":false}},
  "text":{"field":"t"}}},
{"data":{"values":[{"t":"EURUSD: 30-Minutes Timeframe","i":3.2,"p":1.09399}]},"mark":{"type":"text","font":"Open Sans","fontWeight":"bold","fontSize":31,"color":"#808080","align":"left","baseline":"alphabetic"},
 "encoding":{
  "x":{"field":"i","type":"quantitative","title":null,"scale":{"domain":[-0.375,466.625],"nice":false,"zero":false}},
  "y":{"field":"p","type":"quantitative","title":null,"scale":{"domain":[1.04971,1.09711],"nice":false,"zero":false}},
  "text":{"field":"t"}}},
{"data":{"values":[{"t":"forexgdp.com","i":34.4,"p":1.09137}]},"mark":{"type":"text","font":"Open Sans","fontWeight":"bold","fontSize":29,"color":"#808080","align":"left","baseline":"alphabetic"},
 "encoding":{
  "x":{"field":"i","type":"quantitative","title":null,"scale":{"domain":[-0.375,466.625],"nice":false,"zero":false}},
  "y":{"field":"p","type":"quantitative","title":null,"scale":{"domain":[1.04971,1.09711],"nice":false,"zero":false}},
  "text":{"field":"t"}}},
{"data":{"values":[{"t":"EURUSD,M30\u00a0\u00a01.08838 1.08859 1.08794 1.08802","i":3.7,"p":1.09646}]},"mark":{"type":"text","font":"Liberation Sans","fontSize":9.2,"color":"black","align":"left","baseline":"alphabetic"},
 "encoding":{
  "x":{"field":"i","type":"quantitative","title":null,"scale":{"domain":[-0.375,466.625],"nice":false,"zero":false}},
  "y":{"field":"p","type":"quantitative","title":null,"scale":{"domain":[1.04971,1.09711],"nice":false,"zero":false}},
  "text":{"field":"t"}}},
{"data":{"values":[{"i":1.25,"p":1.09663}]},"mark":{"type":"point","shape":"triangle-down","filled":true,"color":"black","size":30,"opacity":1},
 "encoding":{
  "x":{"field":"i","type":"quantitative","title":null,"scale":{"domain":[-0.375,466.625],"nice":false,"zero":false}},
  "y":{"field":"p","type":"quantitative","title":null,"scale":{"domain":[1.04971,1.09711],"nice":false,"zero":false}}}},
{"data":{"values":[{"i1":466.9,"i2":476.6,"p1":1.08822,"p2":1.08777}]},"mark":{"type":"rect","color":"black"},
 "encoding":{
  "x":{"field":"i1","type":"quantitative","title":null,"scale":{"domain":[-0.375,466.625],"nice":false,"zero":false}},
  "x2":{"field":"i2"},
  "y":{"field":"p1","type":"quantitative","title":null,"scale":{"domain":[1.04971,1.09711],"nice":false,"zero":false}},
  "y2":{"field":"p2"}}},
{"data":{"values":[{"t":"1.08802","i":468.0,"p":1.08800}]},"mark":{"type":"text","font":"Liberation Sans","fontSize":9.5,"color":"white","align":"left","baseline":"middle"},
 "encoding":{
  "x":{"field":"i","type":"quantitative","title":null,"scale":{"domain":[-0.375,466.625],"nice":false,"zero":false}},
  "y":{"field":"p","type":"quantitative","title":null,"scale":{"domain":[1.04971,1.09711],"nice":false,"zero":false}},
  "text":{"field":"t"}}}
]
}
